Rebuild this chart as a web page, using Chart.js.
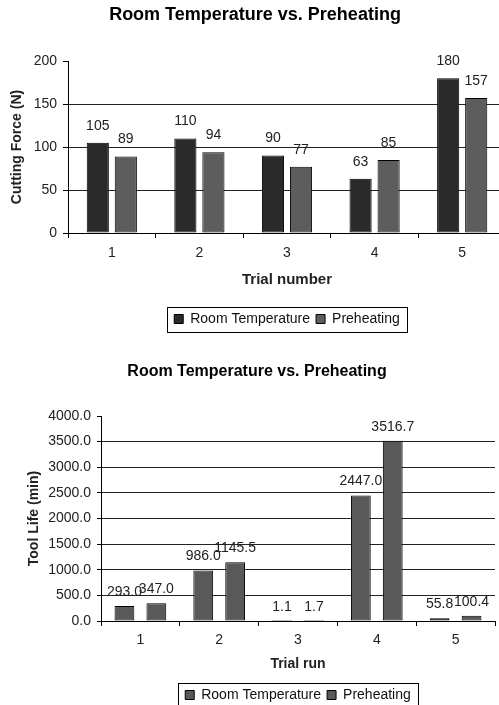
<!DOCTYPE html>
<html>
<head>
<meta charset="utf-8">
<title>Room Temperature vs. Preheating</title>
<script src="https://cdn.jsdelivr.net/npm/chart.js@4.4.1/dist/chart.umd.min.js"></script>
<style>
  html, body { margin: 0; padding: 0; background: #fff; overflow: hidden; width: 499px; height: 705px; }
  canvas { position: absolute; left: 0; }
  #forceChart { top: 0; }
  #lifeChart { top: 350px; }
</style>
</head>
<body>
<canvas id="forceChart" width="510" height="340"></canvas>
<canvas id="lifeChart" width="514" height="365"></canvas>
<script>
const TITLE = "Room Temperature vs. Preheating";
const SERIES = ["Room Temperature", "Preheating"];
const trials = ["1", "2", "3", "4", "5"];

// cutting force per trial (N)
const forceRoom = [105, 110, 90, 63, 180];
const forcePreheat = [89, 94, 77, 85, 157];
const forceTicks = [0, 50, 100, 150, 200];

// tool life per trial run (min)
const lifeRoom = [293.0, 986.0, 1.1, 2447.0, 55.8];
const lifePreheat = [347.0, 1145.5, 1.7, 3516.7, 100.4];
const lifeTicks = [0, 500, 1000, 1500, 2000, 2500, 3000, 3500, 4000];

const FONT = '"Liberation Sans", Arial, sans-serif';
Chart.defaults.font.family = FONT;
Chart.defaults.color = "#222";

// numbers above each bar
const valueLabels = {
  id: "valueLabels",
  afterDatasetsDraw(chart, args, opts) {
    const ctx = chart.ctx;
    ctx.save();
    ctx.font = "14px " + FONT;
    ctx.fillStyle = "#222";
    ctx.textAlign = "center";
    ctx.textBaseline = "middle";
    chart.data.datasets.forEach((ds, i) => {
      chart.getDatasetMeta(i).data.forEach((bar, j) => {
        ctx.fillText(ds.data[j].toFixed(opts.digits), bar.x, bar.y - opts.offset);
      });
    });
    ctx.restore();
  }
};

// thin box round the legend
const legendFrame = {
  id: "legendFrame",
  afterDraw(chart) {
    const boxes = chart.legend && chart.legend.legendHitBoxes;
    if (!boxes || !boxes.length) return;
    const left = Math.min(...boxes.map(b => b.left)) - 7;
    const right = Math.max(...boxes.map(b => b.left + b.width)) + 7;
    const top = boxes[0].top - 5;
    const bottom = boxes[0].top + boxes[0].height + 6;
    const ctx = chart.ctx;
    ctx.save();
    ctx.strokeStyle = "#000";
    ctx.lineWidth = 1;
    ctx.strokeRect(Math.round(left) + 0.5, Math.round(top) + 0.5, Math.round(right - left), Math.round(bottom - top));
    ctx.restore();
  }
};

function makeChart(id, cfg) {
  const bar = (label, data, color) => ({
    label, data, backgroundColor: color, borderColor: "#000", borderWidth: 1, borderSkipped: false,
    categoryPercentage: cfg.catPct, barPercentage: cfg.barPct
  });
  return new Chart(document.getElementById(id), {
    type: "bar",
    data: {
      labels: trials,
      datasets: [bar(SERIES[0], cfg.room, cfg.colors[0]), bar(SERIES[1], cfg.preheat, cfg.colors[1])]
    },
    options: {
      responsive: false,
      animation: false,
      events: [],
      layout: { padding: cfg.padding },
      plugins: {
        title: { display: true, text: TITLE, color: "#000", font: { size: cfg.titleSize, weight: "bold" }, padding: cfg.titlePad },
        legend: {
          position: "bottom",
          fullSize: false,
          labels: { boxWidth: 9, boxHeight: 9, padding: 6, color: "#111", font: { size: 14 } }
        },
        tooltip: { enabled: false },
        valueLabels: { offset: cfg.labelOffset, digits: cfg.digits }
      },
      scales: {
        x: {
          grid: { offset: true, drawOnChartArea: false, color: "#000", tickLength: 5 },
          border: { color: "#000" },
          ticks: { padding: cfg.xTickPad, color: "#222", font: { size: 14 } },
          title: { display: true, text: cfg.xTitle, color: "#222", font: { size: cfg.xTitleSize, weight: "bold" },
                   padding: { top: 0, bottom: cfg.xTitlePad } },
          afterFit: s => { s.height = cfg.xHeight; }
        },
        y: {
          min: cfg.ticks[0],
          max: cfg.ticks[cfg.ticks.length - 1],
          afterBuildTicks: s => { s.ticks = cfg.ticks.map(v => ({ value: v })); },
          grid: {
            color: c => (c.tick && c.tick.value === cfg.ticks[cfg.ticks.length - 1]) ? "rgba(0,0,0,0)" : "#222",
            tickColor: "#000",
            tickLength: cfg.yTickLen
          },
          border: { color: "#000" },
          ticks: { padding: 6, color: "#222", font: { size: 14 }, callback: v => v.toFixed(cfg.digits) },
          title: { display: true, text: cfg.yTitle, color: "#222", font: { size: 14, weight: "bold" },
                   padding: { top: cfg.yTitlePad, bottom: 0 } },
          afterFit: s => { s.width = cfg.yWidth; }
        }
      }
    },
    plugins: [valueLabels, legendFrame]
  });
}

makeChart("forceChart", {
  room: forceRoom, preheat: forcePreheat, ticks: forceTicks, digits: 0,
  colors: ["#2a2a2a", "#5d5d5d"], catPct: 0.64, barPct: 0.79,
  padding: { top: 0, right: 4, bottom: 4, left: 4 },
  titleSize: 18, titlePad: { top: 4.2, bottom: 35.2 },
  xTitle: "Trial number", xTitleSize: 15, xTitlePad: 17, xHeight: 73, xTickPad: 7,
  yTitle: "Cutting Force (N)", yTitlePad: 5, yWidth: 64, yTickLen: 5,
  labelOffset: 17
});

makeChart("lifeChart", {
  room: lifeRoom, preheat: lifePreheat, ticks: lifeTicks, digits: 1,
  colors: ["#595959", "#595959"], catPct: 0.81, barPct: 0.62,
  padding: { top: 0, right: 19, bottom: 3, left: 19 },
  titleSize: 16, titlePad: { top: 12.4, bottom: 34.4 },
  xTitle: "Trial run", xTitleSize: 14, xTitlePad: 9.6, xHeight: 61, xTickPad: 6,
  yTitle: "Tool Life (min)", yTitlePad: 7, yWidth: 82, yTickLen: 4,
  labelOffset: 14
});
</script>
</body>
</html>
